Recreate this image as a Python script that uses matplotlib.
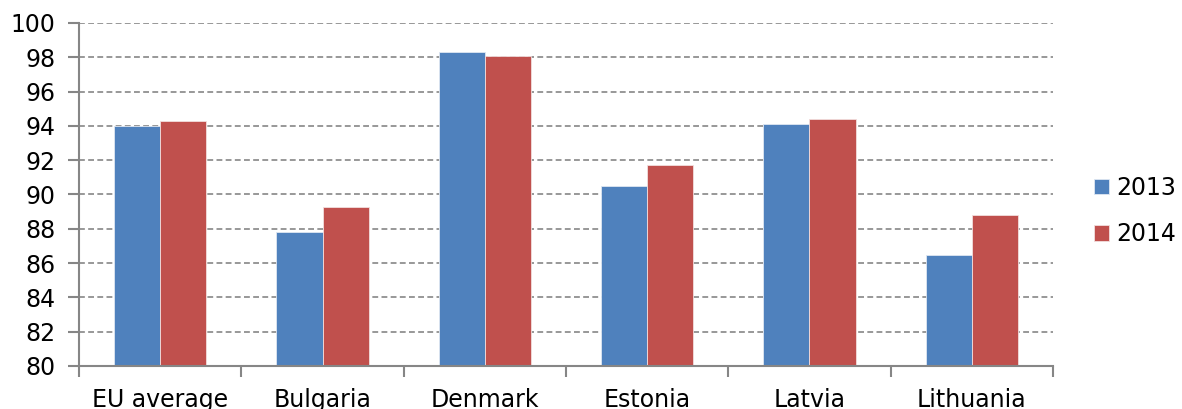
import matplotlib
matplotlib.use("Agg")
import matplotlib.pyplot as plt
import numpy as np

categories = ["EU average", "Bulgaria", "Denmark", "Estonia", "Latvia", "Lithuania"]
values_2013 = [94.0, 87.8, 98.3, 90.5, 94.1, 86.5]
values_2014 = [94.3, 89.3, 98.1, 91.7, 94.4, 88.8]
series_labels = ["2013", "2014"]
yticks = [80, 82, 84, 86, 88, 90, 92, 94, 96, 98, 100]

plt.rcParams['font.family'] = ['DejaVu Sans']
axis_col = "#868686"

fig = plt.figure(figsize=(11.82, 4.09), dpi=100)
ax = fig.add_axes([79/1182, 1-366/409, (1053-79)/1182, (366-23)/409])

x = np.arange(len(categories))
w = 0.284
ax.bar(x - w/2, values_2013, w, color="#4F81BD", edgecolor="#dfe7f2", linewidth=0.6, zorder=3, label=series_labels[0])
ax.bar(x + w/2, values_2014, w, color="#C0504D", edgecolor="#f2dede", linewidth=0.6, zorder=3, label=series_labels[1])

ax.set_xlim(-0.5, len(categories) - 0.5)
ax.set_ylim(80, 100)
ax.set_yticks(yticks)
ax.set_yticklabels([str(t) for t in yticks], fontsize=17)

ax.set_xticks(x)
ax.set_xticklabels(categories, fontsize=17)
ax.tick_params(axis='x', which='major', length=0, pad=16)
ax.set_xticks(np.arange(len(categories) + 1) - 0.5, minor=True)
ax.tick_params(axis='x', which='minor', length=8, width=1.5, color=axis_col, direction='out')
ax.tick_params(axis='y', length=8, width=1.5, color=axis_col, direction='out', pad=9)

ax.yaxis.grid(True, color=axis_col, linestyle=(0, (3.5, 2)), linewidth=1.2, zorder=0)
ax.set_axisbelow(True)

for s in ["top", "right"]:
    ax.spines[s].set_visible(False)
for s in ["left", "bottom"]:
    ax.spines[s].set_color(axis_col)
    ax.spines[s].set_linewidth(1.5)
    ax.spines[s].set_zorder(4)

ax.legend(loc="center left", bbox_to_anchor=(1094/1182, 1-211/409), bbox_transform=fig.transFigure,
          frameon=False, fontsize=17, handlelength=0.65, handleheight=0.65, handletextpad=0.3,
          labelspacing=0.95, borderpad=0, borderaxespad=0)

fig.savefig("out.png", dpi=100)
